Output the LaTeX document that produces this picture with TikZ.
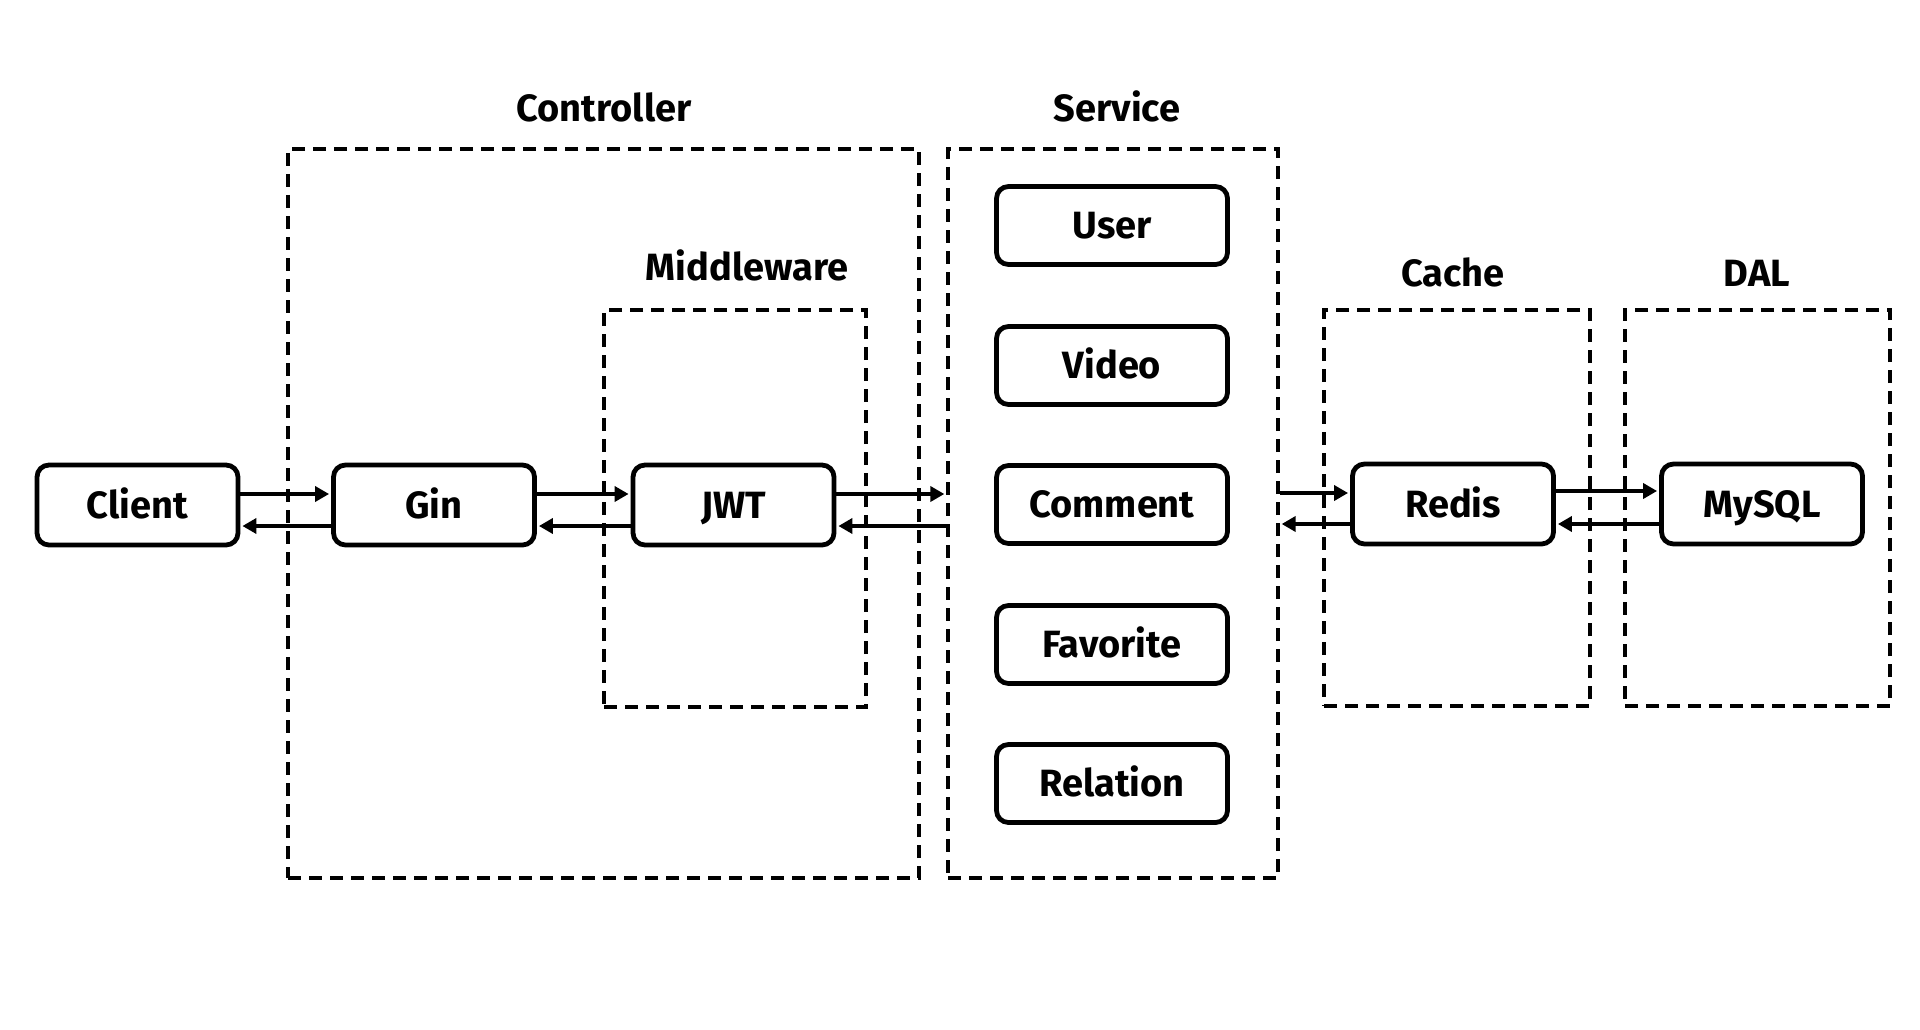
\documentclass[tikz,border=0pt]{standalone}
\usepackage{fontspec}
\setmainfont{Fira Sans}
\usetikzlibrary{arrows.meta}
\begin{document}
\begin{tikzpicture}[x=1pt,y=-1pt,
  comp/.style={draw, line width=4.8pt, rounded corners=12pt, minimum width=201pt, minimum height=80pt, inner sep=0pt, font=\bfseries\fontsize{38}{40}\selectfont, text height=26pt, text depth=0pt},
  svcbox/.style={comp, minimum width=231pt, minimum height=78pt},
  group/.style={draw, dash pattern=on 13pt off 8pt, line width=3.3pt, inner sep=0pt},
  glabel/.style={anchor=base, font=\bfseries\fontsize{38}{40}\selectfont},
  arr/.style={line width=4.5pt, -{Triangle[length=14pt,width=15pt]}, shorten >=2pt}]
\path[use as bounding box] (0,0) rectangle (1920,1030);
% groups
\node[group, minimum width=631pt, minimum height=729pt] (ctrl) at (603.5,513.5) {};
\node[group, minimum width=262pt, minimum height=397pt] (mw) at (735,508.5) {};
\node[group, minimum width=330pt, minimum height=729pt] (svc) at (1113,513.5) {};
\node[group, minimum width=266pt, minimum height=396pt] (cache) at (1457,508) {};
\node[group, minimum width=265pt, minimum height=396pt] (dal) at (1757.5,508) {};
% group labels
\node[glabel] (lctrl) at (604,122) {Controller};
\node[glabel] (lsvc) at (1117,122) {Service};
\node[glabel] (lmw) at (747,280) {Middleware};
\node[glabel] (lcache) at (1453,286) {Cache};
\node[glabel] (ldal) at (1757,286) {DAL};
% components
\node[comp] (client) at (137.5,505) {Client};
\node[comp] (gin) at (434,505) {Gin};
\node[comp] (jwt) at (733.5,505) {JWT};
\node[comp] (redis) at (1453,504) {Redis};
\node[comp] (mysql) at (1762,504) {MySQL};
\node[svcbox] (user) at (1112,225.5) {User};
\node[svcbox] (video) at (1112,365.5) {Video};
\node[svcbox] (comment) at (1112,504.5) {Comment};
\node[svcbox] (favorite) at (1112,644.5) {Favorite};
\node[svcbox] (relation) at (1112,783.5) {Relation};
% connectors
\draw[arr] (client.east |- 0,494) -- (gin.west |- 0,494);
\draw[arr] (gin.west |- 0,526) -- (client.east |- 0,526);
\draw[arr] (gin.east |- 0,494) -- (jwt.west |- 0,494);
\draw[arr] (jwt.west |- 0,526) -- (gin.east |- 0,526);
\draw[arr] (jwt.east |- 0,494) -- (svc.west |- 0,494);
\draw[arr] (svc.west |- 0,526) -- (jwt.east |- 0,526);
\draw[arr] (svc.east |- 0,493) -- (redis.west |- 0,493);
\draw[arr] (redis.west |- 0,524) -- (svc.east |- 0,524);
\draw[arr] (redis.east |- 0,491) -- (mysql.west |- 0,491);
\draw[arr] (mysql.west |- 0,524) -- (redis.east |- 0,524);
\end{tikzpicture}
\end{document}
